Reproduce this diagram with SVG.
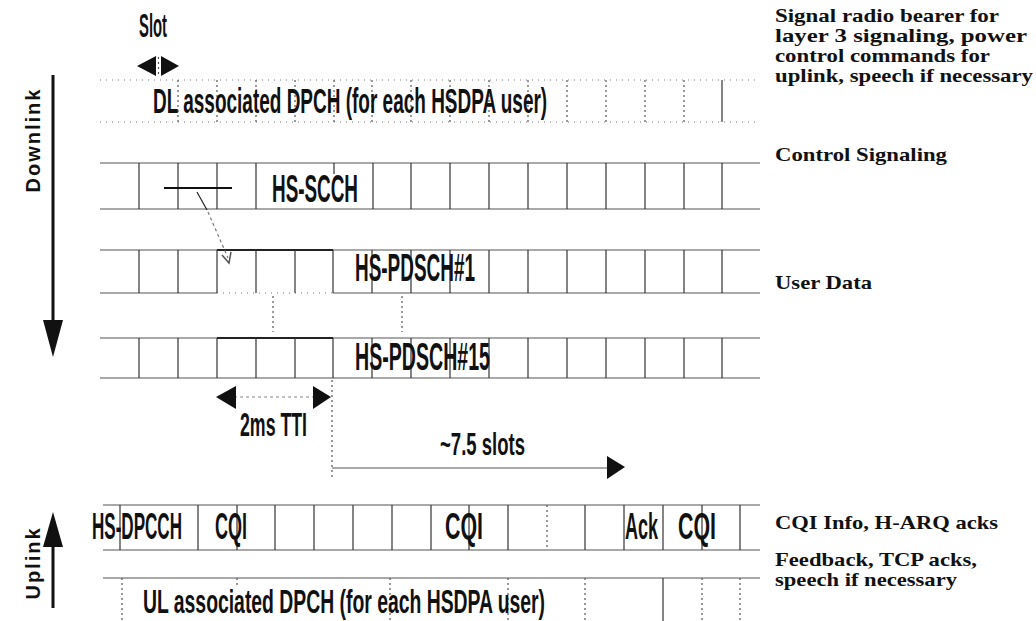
<svg xmlns="http://www.w3.org/2000/svg" width="1036" height="621" viewBox="0 0 1036 621">
<style>
.lbl{font-family:"Liberation Sans","Arial",sans-serif;font-weight:bold;fill:#111}
.side{font-family:"Liberation Serif",serif;font-weight:bold;font-size:19px;fill:#111}
.dir{font-family:"Liberation Sans",sans-serif;font-weight:bold;font-size:20px;letter-spacing:2px;fill:#111}
.row{stroke:#555;stroke-width:1.2;fill:none}
.dotrow{stroke:#777;stroke-width:1.2;stroke-dasharray:1 5;fill:none}
.v{stroke:#333;stroke-width:1.2;fill:none}
.vd{stroke:#555;stroke-width:1.2;stroke-dasharray:2 3;fill:none}
.ax{stroke:#111;stroke-width:3;fill:none}
.tri{fill:#111}
</style>
<rect width="1036" height="621" fill="#fff"/>

<g id="axis-downlink">
<line class="ax" x1="53" y1="75" x2="53" y2="325"/>
<polygon class="tri" points="43,320 63,320 53,357"/>
<text class="dir" transform="translate(40,140) rotate(-90)" text-anchor="middle">Downlink</text>
</g>
<g id="axis-uplink">
<line class="ax" x1="53" y1="608" x2="53" y2="540"/>
<polygon class="tri" points="43,547 63,547 53,512"/>
<text class="dir" transform="translate(40,563) rotate(-90)" text-anchor="middle">Uplink</text>
</g>

<g id="slot">
<text class="lbl" transform="translate(139,37) scale(0.5,1)" font-size="33" textLength="56" lengthAdjust="spacingAndGlyphs">Slot</text>
<polygon class="tri" points="137,66 156,56 156,76"/>
<polygon class="tri" points="179,66 161,56 161,76"/>
<line class="vd" x1="158.5" y1="57" x2="158.5" y2="76"/>
</g>

<g id="dl-dpch">
<line class="dotrow" x1="100" y1="80" x2="760" y2="80"/>
<line class="dotrow" x1="100" y1="122" x2="760" y2="122"/>
<g class="vd">
<line x1="178" y1="80" x2="178" y2="122"/><line x1="217" y1="80" x2="217" y2="122"/>
<line x1="256" y1="80" x2="256" y2="122"/><line x1="295" y1="80" x2="295" y2="122"/>
<line x1="334" y1="80" x2="334" y2="122"/><line x1="372" y1="80" x2="372" y2="122"/>
<line x1="411" y1="80" x2="411" y2="122"/><line x1="450" y1="80" x2="450" y2="122"/>
<line x1="489" y1="80" x2="489" y2="122"/><line x1="528" y1="80" x2="528" y2="122"/>
<line x1="567" y1="80" x2="567" y2="122"/><line x1="606" y1="80" x2="606" y2="122"/>
<line x1="645" y1="80" x2="645" y2="122"/><line x1="684" y1="80" x2="684" y2="122"/>
</g>
<line class="v" x1="722" y1="80" x2="722" y2="122"/>
<text class="lbl" transform="translate(153,113) scale(0.6,1)" font-size="36" textLength="657" lengthAdjust="spacingAndGlyphs">DL associated DPCH (for each HSDPA user)</text>
</g>

<g id="hs-scch">
<line class="row" x1="100" y1="163" x2="760" y2="163"/>
<line class="row" x1="100" y1="209" x2="760" y2="209"/>
<g class="v">
<line x1="139" y1="163" x2="139" y2="209"/><line x1="178" y1="163" x2="178" y2="209"/>
<line x1="217" y1="163" x2="217" y2="209"/><line x1="256" y1="163" x2="256" y2="209"/>
<line x1="373" y1="163" x2="373" y2="209"/><line x1="411" y1="163" x2="411" y2="209"/>
<line x1="450" y1="163" x2="450" y2="209"/><line x1="489" y1="163" x2="489" y2="209"/>
<line x1="528" y1="163" x2="528" y2="209"/><line x1="567" y1="163" x2="567" y2="209"/>
<line x1="606" y1="163" x2="606" y2="209"/><line x1="645" y1="163" x2="645" y2="209"/>
<line x1="684" y1="163" x2="684" y2="209"/><line x1="722" y1="163" x2="722" y2="209"/>
</g>
<line class="v" x1="334" y1="163" x2="334" y2="174"/>
<line stroke="#111" stroke-width="2" x1="164" y1="188" x2="232" y2="188"/>
<line stroke="#222" stroke-width="1.2" x1="197" y1="192" x2="207" y2="210"/>
<text class="lbl" transform="translate(272,202) scale(0.5,1)" font-size="38" textLength="172" lengthAdjust="spacingAndGlyphs">HS-SCCH</text>
</g>

<g id="hs-pdsch1">
<line class="row" x1="100" y1="250" x2="760" y2="250"/>
<line stroke="#222" stroke-width="2" x1="217" y1="250" x2="333" y2="250"/>
<line class="row" x1="100" y1="293" x2="217" y2="293"/>
<line class="dotrow" x1="217" y1="293" x2="333" y2="293"/>
<line class="row" x1="333" y1="293" x2="760" y2="293"/>
<g class="v">
<line x1="139" y1="250" x2="139" y2="293"/><line x1="178" y1="250" x2="178" y2="293"/>
<line x1="217" y1="250" x2="217" y2="293"/><line x1="256" y1="250" x2="256" y2="293"/>
<line x1="295" y1="250" x2="295" y2="293"/><line x1="333" y1="250" x2="333" y2="293"/>
<line x1="372" y1="250" x2="372" y2="293"/><line x1="411" y1="250" x2="411" y2="293"/>
<line x1="450" y1="250" x2="450" y2="293"/><line x1="489" y1="250" x2="489" y2="293"/>
<line x1="528" y1="250" x2="528" y2="293"/><line x1="567" y1="250" x2="567" y2="293"/>
<line x1="606" y1="250" x2="606" y2="293"/><line x1="645" y1="250" x2="645" y2="293"/>
<line x1="684" y1="250" x2="684" y2="293"/><line x1="722" y1="250" x2="722" y2="293"/>
</g>
<text class="lbl" transform="translate(355,281) scale(0.5,1)" font-size="38" textLength="240" lengthAdjust="spacingAndGlyphs">HS-PDSCH#1</text>
</g>

<g id="hs-pdsch15">
<line class="vd" x1="273" y1="296" x2="273" y2="332"/>
<line class="vd" x1="402" y1="296" x2="402" y2="332"/>
<line class="row" x1="100" y1="338" x2="760" y2="338"/>
<line stroke="#222" stroke-width="2" x1="217" y1="338" x2="333" y2="338"/>
<line class="row" x1="100" y1="378" x2="760" y2="378"/>
<g class="v">
<line x1="139" y1="338" x2="139" y2="378"/><line x1="178" y1="338" x2="178" y2="378"/>
<line x1="217" y1="338" x2="217" y2="378"/><line x1="256" y1="338" x2="256" y2="378"/>
<line x1="295" y1="338" x2="295" y2="378"/><line x1="333" y1="338" x2="333" y2="378"/>
<line x1="372" y1="338" x2="372" y2="378"/><line x1="411" y1="338" x2="411" y2="378"/>
<line x1="450" y1="338" x2="450" y2="378"/><line x1="489" y1="338" x2="489" y2="378"/>
<line x1="528" y1="338" x2="528" y2="378"/><line x1="567" y1="338" x2="567" y2="378"/>
<line x1="606" y1="338" x2="606" y2="378"/><line x1="645" y1="338" x2="645" y2="378"/>
<line x1="684" y1="338" x2="684" y2="378"/><line x1="722" y1="338" x2="722" y2="378"/>
</g>
<text class="lbl" transform="translate(355,370) scale(0.5,1)" font-size="38" textLength="270" lengthAdjust="spacingAndGlyphs">HS-PDSCH#15</text>
</g>

<g id="connectors">
<line stroke="#777" stroke-width="1.2" stroke-dasharray="3 3" x1="208" y1="212" x2="228" y2="258"/>
<polyline fill="none" stroke="#555" stroke-width="1.5" points="222,255 229,263 231,252"/>
<line class="vd" x1="332" y1="380" x2="332" y2="478"/>
<line stroke="#888" stroke-width="1.2" stroke-dasharray="3 3" x1="234" y1="397" x2="316" y2="397"/>
<polygon class="tri" points="216,397 236,386 236,409"/>
<polygon class="tri" points="331,397 313,386 313,409"/>
<line stroke="#555" stroke-width="1.2" x1="332" y1="468" x2="608" y2="468"/>
<polygon class="tri" points="625,467 607,456 607,479"/>
</g>

<g id="timing-labels">
<text class="lbl" transform="translate(240,436) scale(0.5,1)" font-size="34" textLength="134" lengthAdjust="spacingAndGlyphs">2ms TTI</text>
<text class="lbl" transform="translate(440,455) scale(0.5,1)" font-size="31" textLength="170" lengthAdjust="spacingAndGlyphs">~7.5 slots</text>
</g>

<g id="hs-dpcch">
<line class="row" x1="103" y1="505" x2="760" y2="505"/>
<line class="row" x1="103" y1="550" x2="760" y2="550"/>
<g class="v">
<line x1="120" y1="505" x2="120" y2="550"/><line x1="198" y1="505" x2="198" y2="550"/>
<line x1="237" y1="505" x2="237" y2="550"/><line x1="275" y1="505" x2="275" y2="550"/>
<line x1="314" y1="505" x2="314" y2="550"/><line x1="353" y1="505" x2="353" y2="550"/>
<line x1="392" y1="505" x2="392" y2="550"/><line x1="431" y1="505" x2="431" y2="550"/>
<line x1="469" y1="505" x2="469" y2="550"/><line x1="508" y1="505" x2="508" y2="550"/>
<line x1="585" y1="505" x2="585" y2="550"/><line x1="624" y1="505" x2="624" y2="550"/>
<line x1="663" y1="505" x2="663" y2="550"/><line x1="702" y1="505" x2="702" y2="550"/>
<line x1="740" y1="505" x2="740" y2="550"/>
</g>
<line class="vd" x1="547" y1="505" x2="547" y2="550"/>
<text class="lbl" transform="translate(92,539) scale(0.5,1)" font-size="37" textLength="180" lengthAdjust="spacingAndGlyphs">HS-DPCCH</text>
<text class="lbl" transform="translate(215,539) scale(0.5,1)" font-size="37" textLength="64" lengthAdjust="spacingAndGlyphs">CQI</text>
<text class="lbl" transform="translate(445,539) scale(0.5,1)" font-size="37" textLength="76" lengthAdjust="spacingAndGlyphs">CQI</text>
<text class="lbl" transform="translate(625,539) scale(0.5,1)" font-size="37" textLength="66" lengthAdjust="spacingAndGlyphs">Ack</text>
<text class="lbl" transform="translate(678,539) scale(0.5,1)" font-size="37" textLength="76" lengthAdjust="spacingAndGlyphs">CQI</text>
</g>

<g id="ul-dpch">
<line class="row" x1="103" y1="578" x2="760" y2="578"/>
<g class="vd">
<line x1="122" y1="578" x2="122" y2="621"/><line x1="237" y1="578" x2="237" y2="588"/>
<line x1="390" y1="578" x2="390" y2="621"/><line x1="508" y1="578" x2="508" y2="621"/>
<line x1="585" y1="578" x2="585" y2="621"/><line x1="702" y1="578" x2="702" y2="621"/>
<line x1="740" y1="578" x2="740" y2="621"/>
</g>
<line class="v" x1="663" y1="578" x2="663" y2="621"/>
<text class="lbl" transform="translate(143,613) scale(0.6,1)" font-size="34" textLength="670" lengthAdjust="spacingAndGlyphs">UL associated DPCH (for each HSDPA user)</text>
</g>

<g id="descriptions">
<text class="side" x="775" y="22" textLength="224" lengthAdjust="spacingAndGlyphs">Signal radio bearer for</text>
<text class="side" x="775" y="42" textLength="252" lengthAdjust="spacingAndGlyphs">layer 3 signaling, power</text>
<text class="side" x="775" y="62" textLength="215" lengthAdjust="spacingAndGlyphs">control commands for</text>
<text class="side" x="775" y="82" textLength="258" lengthAdjust="spacingAndGlyphs">uplink, speech if necessary</text>
<text class="side" x="775" y="161" textLength="172" lengthAdjust="spacingAndGlyphs">Control Signaling</text>
<text class="side" x="775" y="289" textLength="97" lengthAdjust="spacingAndGlyphs">User Data</text>
<text class="side" x="775" y="529" textLength="223" lengthAdjust="spacingAndGlyphs">CQI Info, H-ARQ acks</text>
<text class="side" x="775" y="566" textLength="202" lengthAdjust="spacingAndGlyphs">Feedback, TCP acks,</text>
<text class="side" x="775" y="586" textLength="182" lengthAdjust="spacingAndGlyphs">speech if necessary</text>
</g>
</svg>
